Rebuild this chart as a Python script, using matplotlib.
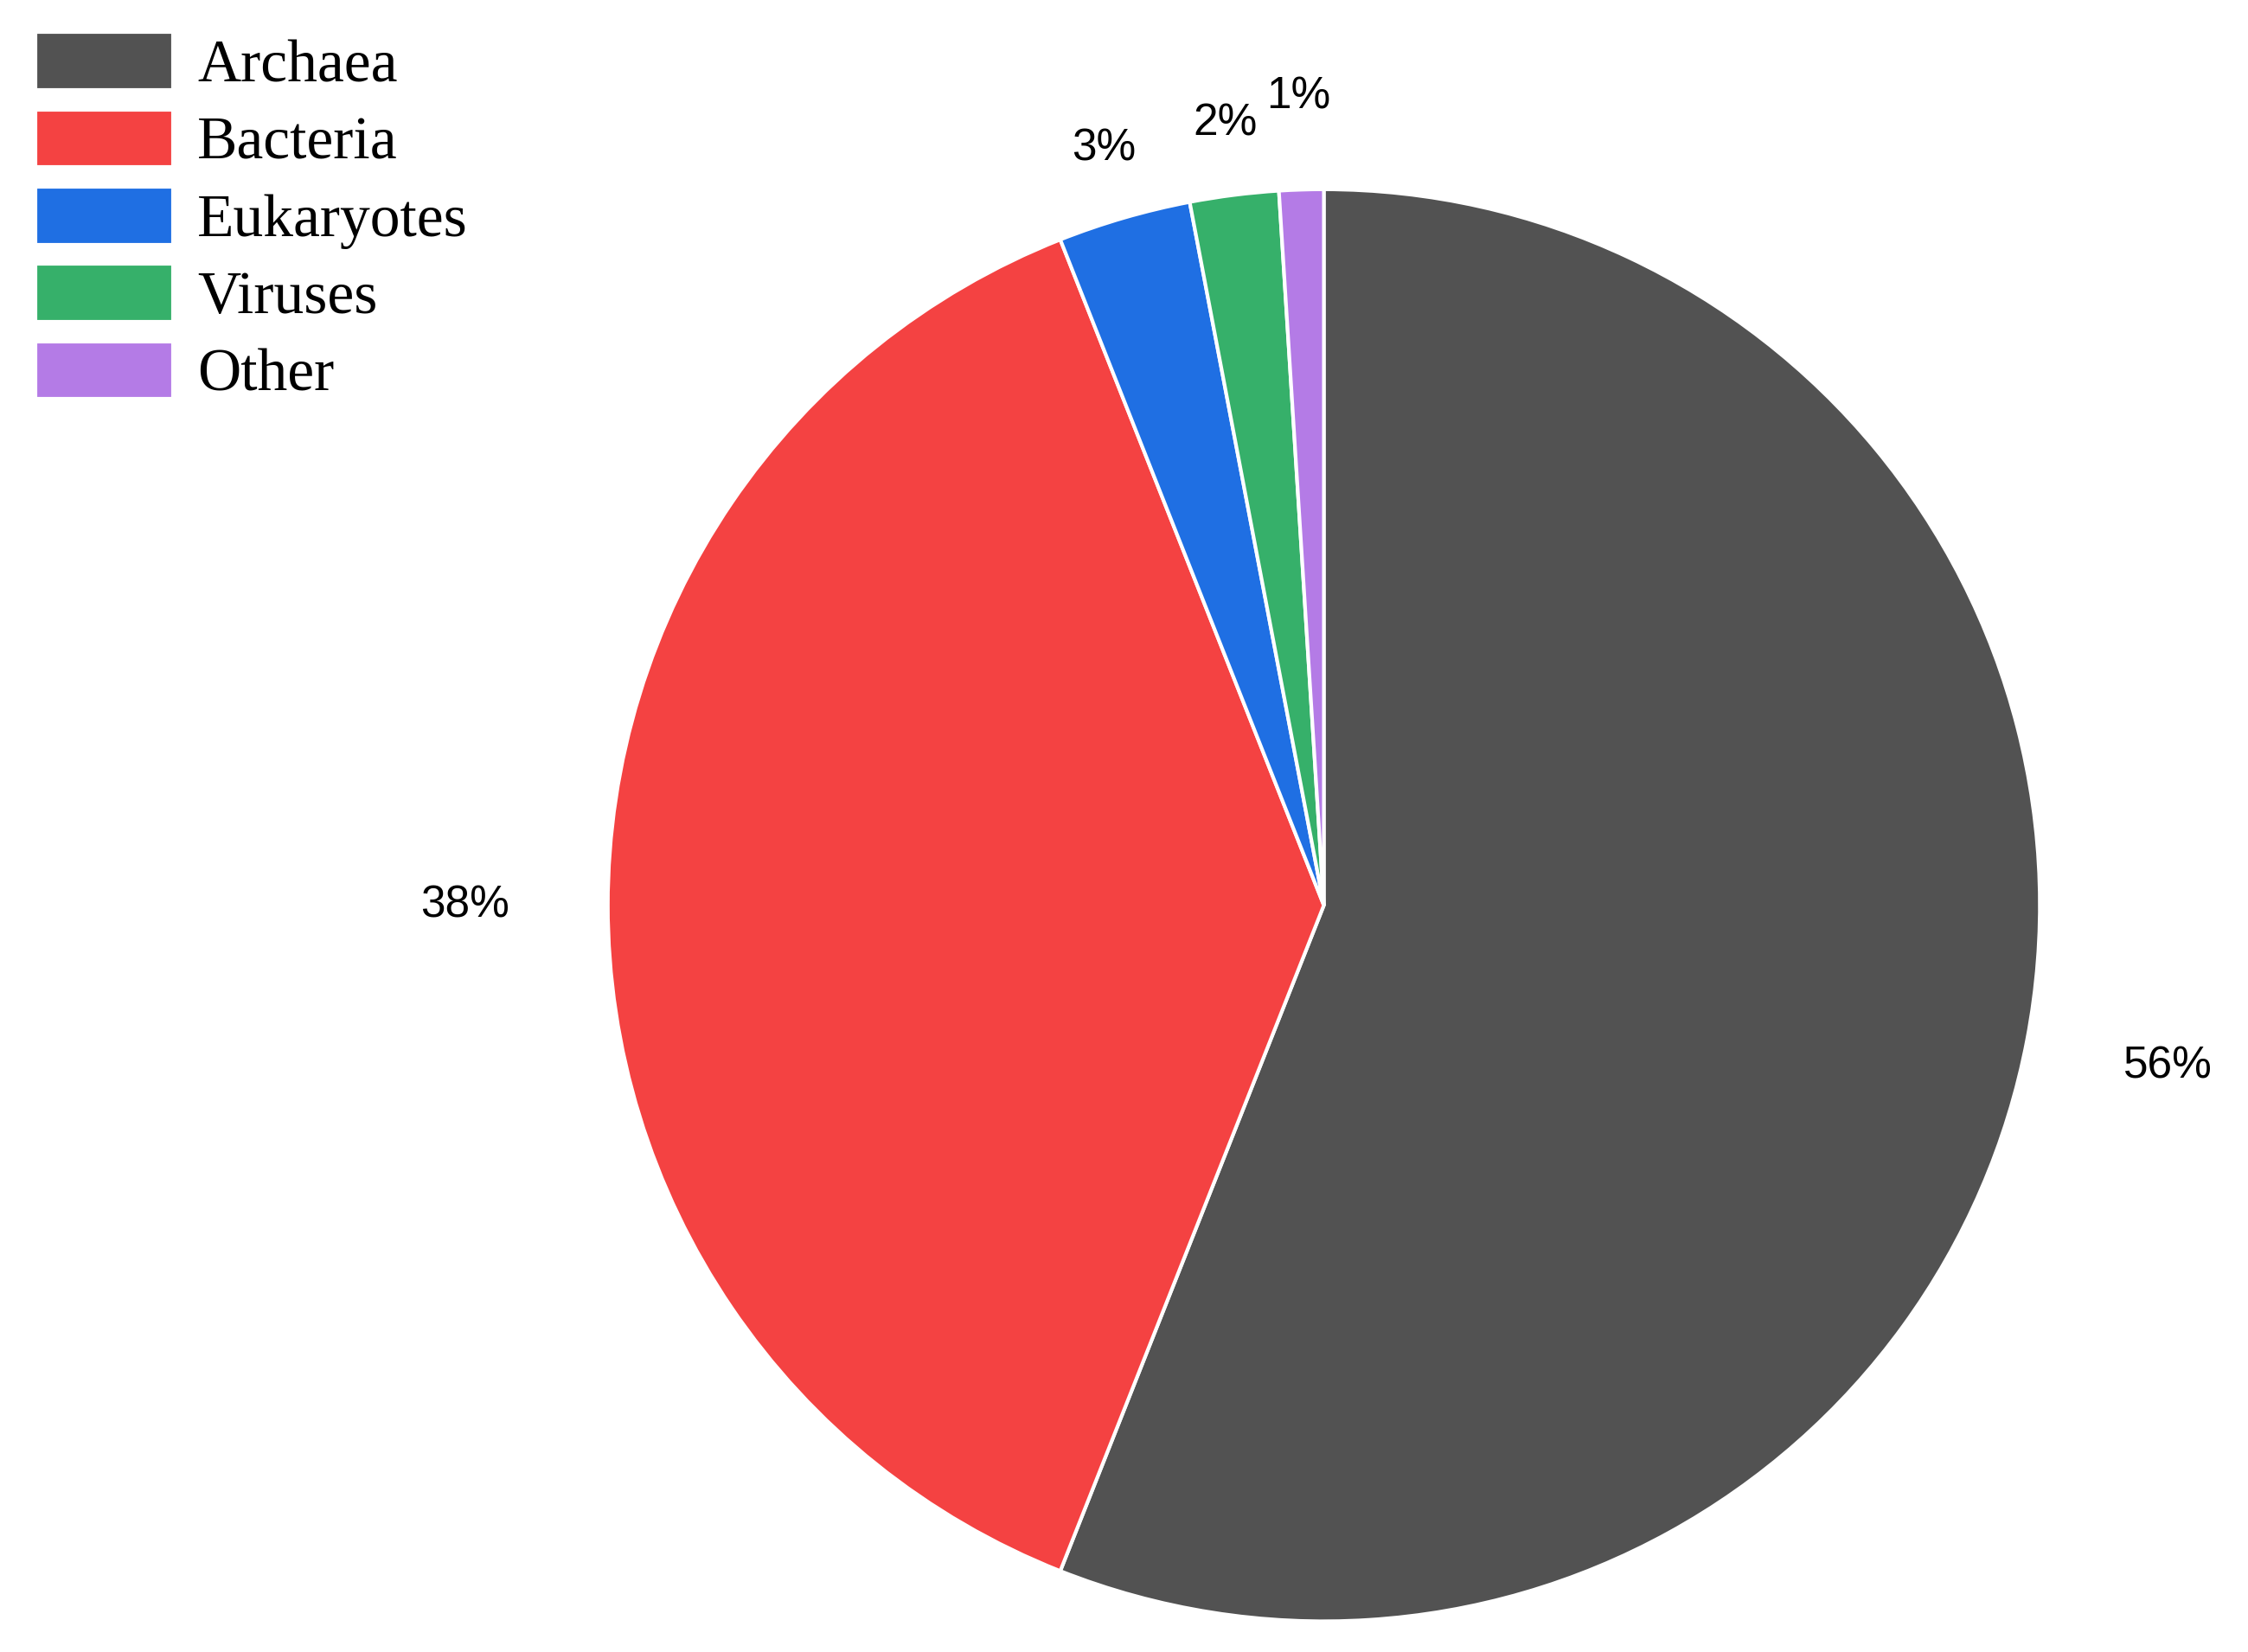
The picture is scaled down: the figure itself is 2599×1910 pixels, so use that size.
import matplotlib
matplotlib.use("Agg")
import matplotlib.pyplot as plt
import numpy as np

categories = ["Archaea", "Bacteria", "Eukaryotes", "Viruses", "Other"]
values = [56, 38, 3, 2, 1]
colors = ["#525252", "#f44242", "#1f6fe3", "#36b06a", "#b47be6"]
label_dist = [1.2, 1.2, 1.1, 1.1, 1.13]

fig = plt.figure(figsize=(25.99, 19.10), dpi=100)
ax = fig.add_axes([0.589 - 0.3186, 0.452 - 0.4335, 0.637, 0.867])
wedges, texts, autotexts = ax.pie(values, colors=colors, startangle=90, counterclock=False,
                                  autopct="%d%%", pctdistance=1.0,
                                  wedgeprops=dict(edgecolor="white", linewidth=3),
                                  textprops=dict(fontsize=37, family="Liberation Sans"))
for t, d in zip(autotexts, label_dist):
    x, y = t.get_position()
    t.set_position((x * d, y * d))
ax.set_xlim(-1, 1); ax.set_ylim(-1, 1); ax.set_aspect("equal")
ax.axis("off")
fig.legend(wedges, categories, loc="upper left", bbox_to_anchor=(0.005, 0.995),
           frameon=False, prop=dict(family="Liberation Serif", size=50),
           handlelength=2.3, handleheight=1.1, labelspacing=0.25, handletextpad=0.4,
           borderaxespad=0)
fig.savefig("out.png", dpi=100, facecolor="white")
